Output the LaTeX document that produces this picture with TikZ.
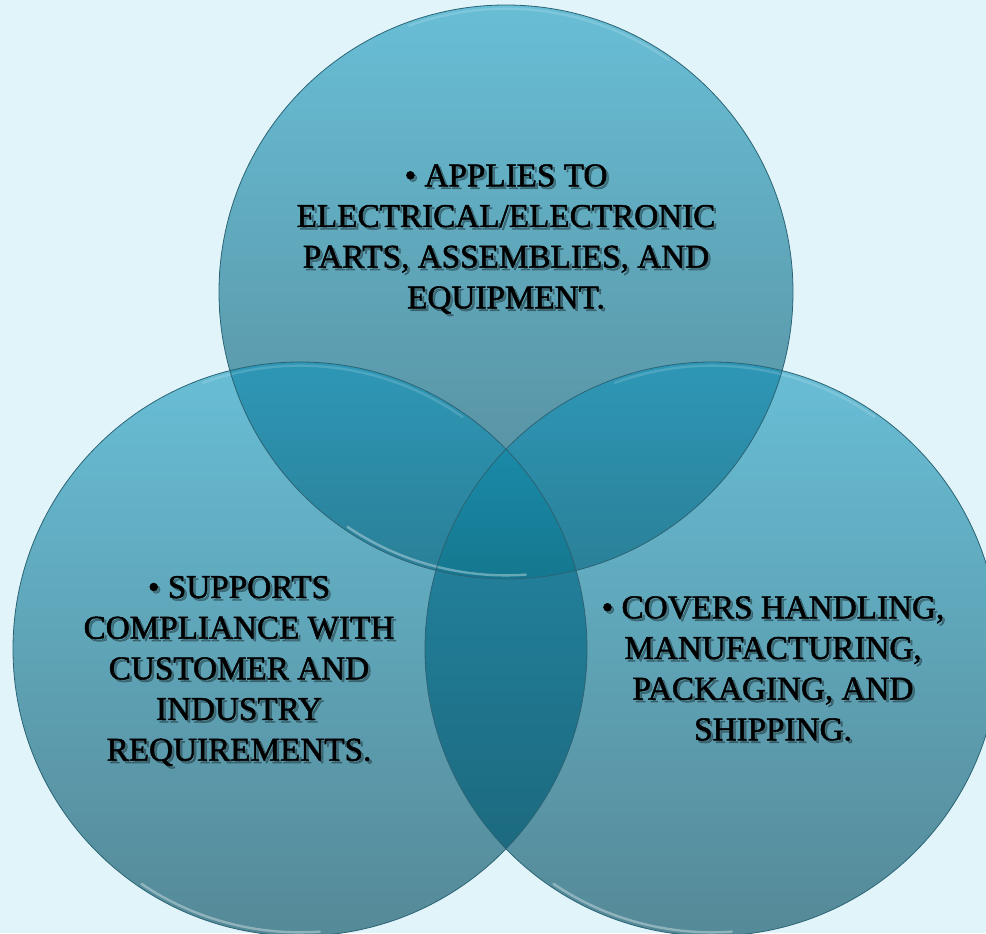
\documentclass[tikz,border=0pt]{standalone}
\usepackage{fontspec}
\newfontfamily\alg{Liberation Serif}[FakeBold=1.5]
\definecolor{bg}{HTML}{E0F4F9}
\definecolor{ctop}{HTML}{68BED6}
\definecolor{cmid}{HTML}{5AA5BB}
\definecolor{cbot}{HTML}{558997}
\definecolor{dtop}{HTML}{2E97B6}
\definecolor{dbot}{HTML}{2A7F97}
\definecolor{etop}{HTML}{2487A5}
\definecolor{ebot}{HTML}{1C6A7F}
\definecolor{ftop}{HTML}{1A8AA8}
\definecolor{fbot}{HTML}{15778F}
\definecolor{edge}{HTML}{2C6475}
\tikzset{
  single/.style={top color=ctop, middle color=cmid, bottom color=cbot},
  venn/.style={draw=edge, line width=0.6pt},
  hilite/.style={draw=white, line width=1.8pt, draw opacity=0.35, line cap=round},
  lbl/.style={font=\alg\fontsize{24.9}{30.5}\selectfont, align=center, text=black, inner sep=0pt},
  lblshadow/.style={lbl, text=black, text opacity=0.3},
}
\begin{document}
\begin{tikzpicture}[x=0.75pt, y=-0.75pt]
\def\R{215.25pt}
\useasboundingbox (0,0) rectangle (986,933);
\clip (0,0) rectangle (986,933);
\fill[bg] (0,0) rectangle (986,933);
\coordinate (T) at (506,292);
\coordinate (L) at (300,649);
\coordinate (Rc) at (712,649);
% single circles
\shade[single] (T) circle[radius=\R];
\shade[single] (L) circle[radius=\R];
\shade[single] (Rc) circle[radius=\R];
% pairwise overlaps
\begin{scope}
  \clip (T) circle[radius=\R];
  \clip (L) circle[radius=\R];
  \shade[top color=dtop, bottom color=dbot] (0,362) rectangle (986,579);
\end{scope}
\begin{scope}
  \clip (T) circle[radius=\R];
  \clip (Rc) circle[radius=\R];
  \shade[top color=dtop, bottom color=dbot] (0,362) rectangle (986,579);
\end{scope}
\begin{scope}
  \clip (L) circle[radius=\R];
  \clip (Rc) circle[radius=\R];
  \shade[top color=etop, bottom color=ebot] (0,449) rectangle (986,849);
\end{scope}
% triple overlap
\begin{scope}
  \clip (T) circle[radius=\R];
  \clip (L) circle[radius=\R];
  \clip (Rc) circle[radius=\R];
  \shade[top color=ftop, bottom color=fbot] (0,449) rectangle (986,579);
\end{scope}
% bevel highlights
\foreach \c in {T,L,Rc}{
  \draw[hilite] (\c) ++(236:212.5pt) arc[start angle=236, end angle=274, radius=212.5pt];
  \draw[hilite, draw opacity=0.15] (\c) ++(55:212.5pt) arc[start angle=55, end angle=110, radius=212.5pt];
}
% outlines
\draw[venn] (T) circle[radius=\R];
\draw[venn] (L) circle[radius=\R];
\draw[venn] (Rc) circle[radius=\R];
% texts (soft shadow, then text)
\node[lblshadow] (tTs) at (508.5,241.5) {• APPLIES TO\\ELECTRICAL/ELECTRONIC\\PARTS, ASSEMBLIES, AND\\EQUIPMENT.};
\node[lbl] (tT) at (506,239) {• APPLIES TO\\ELECTRICAL/ELECTRONIC\\PARTS, ASSEMBLIES, AND\\EQUIPMENT.};
\node[lblshadow] (tLs) at (241.5,673.5) {• SUPPORTS\\COMPLIANCE WITH\\CUSTOMER AND\\INDUSTRY\\REQUIREMENTS.};
\node[lbl] (tL) at (239,671) {• SUPPORTS\\COMPLIANCE WITH\\CUSTOMER AND\\INDUSTRY\\REQUIREMENTS.};
\node[lblshadow] (tRs) at (775.5,671) {• COVERS HANDLING,\\MANUFACTURING,\\PACKAGING, AND\\SHIPPING.};
\node[lbl] (tR) at (773,668.5) {• COVERS HANDLING,\\MANUFACTURING,\\PACKAGING, AND\\SHIPPING.};
\end{tikzpicture}
\end{document}
